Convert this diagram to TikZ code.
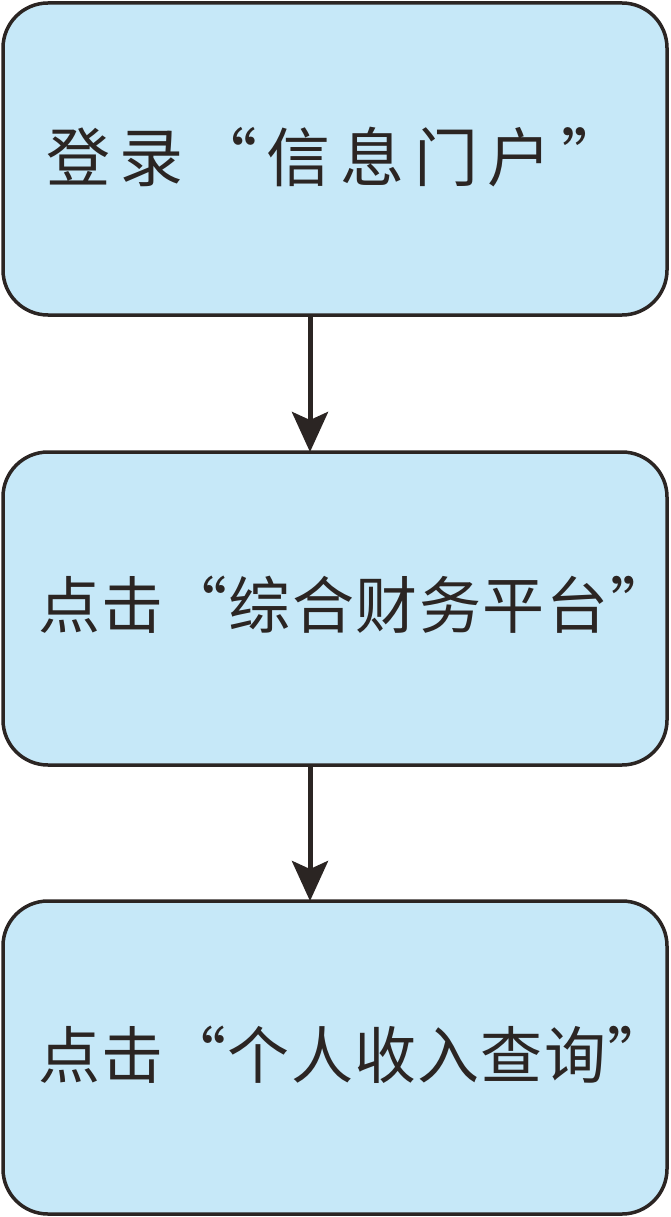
\documentclass[tikz,border=0pt]{standalone}
\usepackage{fontspec}
\newfontfamily\cjk{Noto Sans CJK SC}
\usetikzlibrary{arrows.meta}
\definecolor{boxfill}{HTML}{C6E8F8}
\definecolor{ink}{HTML}{2B2523}
\tikzset{
  flowbox/.style={draw=ink, fill=boxfill, line width=3.5pt, rounded corners=45pt},
  flowtext/.style={anchor=west, inner sep=0pt, text=ink},
  flowarrow/.style={draw=ink, line width=5pt, -{Stealth[length=40pt,width=36pt,inset=8pt]}}
}
\begin{document}
\begin{tikzpicture}[x=1pt,y=-1pt]
\useasboundingbox (0,0) rectangle (670,1217);
\path[flowbox] (3,3) rectangle (667,315);
\path[flowbox] (3,452) rectangle (667,765);
\path[flowbox] (3,901) rectangle (667,1214);
\coordinate (b1s) at (310,315);
\coordinate (b2n) at (310,452);
\coordinate (b2s) at (310,765);
\coordinate (b3n) at (310,901);
\node[flowtext] (t1) at (46,157) {\cjk\addfontfeature{LetterSpace=15}\fontsize{64pt}{64pt}\selectfont 登录“信息门户”};
\node[flowtext] (t2) at (38,605) {\cjk\addfontfeature{LetterSpace=2.5}\fontsize{62pt}{62pt}\selectfont 点击“综合财务平台”};
\node[flowtext] (t3) at (38,1055) {\cjk\addfontfeature{LetterSpace=2}\fontsize{62pt}{62pt}\selectfont 点击“个人收入查询”};
\draw[flowarrow] (b1s) -- (b2n);
\draw[flowarrow] (b2s) -- (b3n);
\end{tikzpicture}
\end{document}
